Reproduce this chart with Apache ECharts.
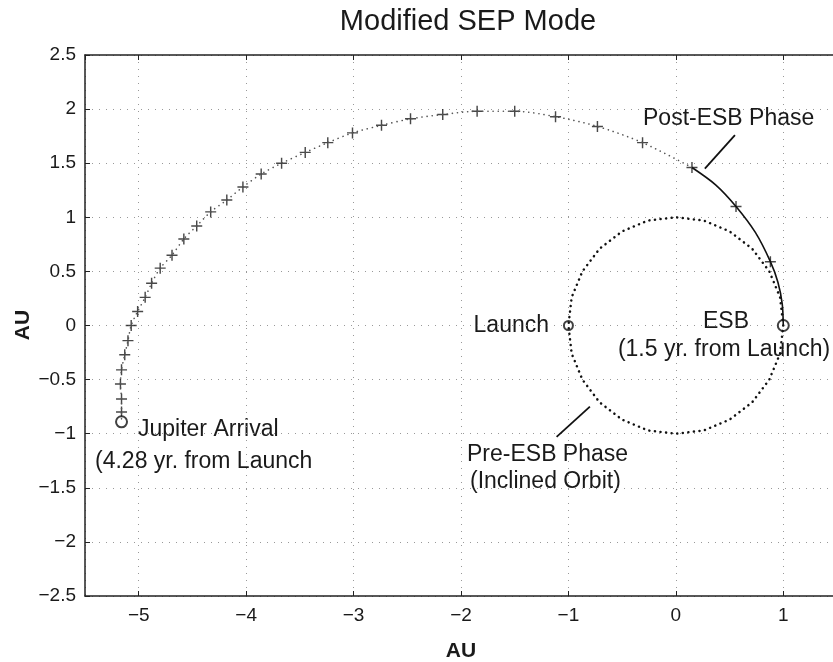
<!DOCTYPE html>
<html><head><meta charset="utf-8">
<script src="https://cdn.jsdelivr.net/npm/echarts@6/dist/echarts.min.js"></script>
<style>html,body{margin:0;padding:0;background:#fff}#c{width:833px;height:662px}</style>
</head><body><div id="c"></div>
<script>
// Post-ESB solid arc (from ESB at (1,0) to start of coast)
const postEsbX = [1.00, 0.99, 0.95, 0.88, 0.74, 0.56, 0.37, 0.15];
const postEsbY = [0.00, 0.20, 0.40, 0.59, 0.86, 1.10, 1.30, 1.46];
// Crosses along trajectory (ESB -> Jupiter)
const crossX = [0.88, 0.56, 0.15, -0.31, -0.73, -1.12, -1.50, -1.85, -2.17, -2.47, -2.74, -3.01, -3.24, -3.45, -3.67, -3.86, -4.03, -4.18, -4.33, -4.46, -4.58, -4.69, -4.80, -4.88, -4.94, -5.01, -5.07, -5.10, -5.13, -5.16, -5.17, -5.16, -5.16];
const crossY = [0.59, 1.10, 1.46, 1.69, 1.84, 1.93, 1.98, 1.98, 1.95, 1.91, 1.85, 1.78, 1.69, 1.60, 1.50, 1.40, 1.28, 1.16, 1.05, 0.92, 0.80, 0.65, 0.53, 0.39, 0.26, 0.13, 0.00, -0.14, -0.27, -0.41, -0.54, -0.68, -0.80];
// Coast (dotted) trajectory: from end of post-ESB to Jupiter arrival
const coastX = [0.15, -0.31, -0.73, -1.12, -1.50, -1.85, -2.17, -2.47, -2.74, -3.01, -3.24, -3.45, -3.67, -3.86, -4.03, -4.18, -4.33, -4.46, -4.58, -4.69, -4.80, -4.88, -4.94, -5.01, -5.07, -5.10, -5.13, -5.16, -5.17, -5.16, -5.16, -5.16];
const coastY = [1.46, 1.69, 1.84, 1.93, 1.98, 1.98, 1.95, 1.91, 1.85, 1.78, 1.69, 1.60, 1.50, 1.40, 1.28, 1.16, 1.05, 0.92, 0.80, 0.65, 0.53, 0.39, 0.26, 0.13, 0.00, -0.14, -0.27, -0.41, -0.54, -0.68, -0.80, -0.89];
// Pre-ESB inclined orbit (unit circle)
const orbitX = [1, 0.97, 0.87, 0.71, 0.5, 0.26, 0, -0.26, -0.5, -0.71, -0.87, -0.97, -1, -0.97, -0.87, -0.71, -0.5, -0.26, 0, 0.26, 0.5, 0.71, 0.87, 0.97, 1];
const orbitY = [0, 0.26, 0.5, 0.71, 0.87, 0.97, 1, 0.97, 0.87, 0.71, 0.5, 0.26, 0, -0.26, -0.5, -0.71, -0.87, -0.97, -1, -0.97, -0.87, -0.71, -0.5, -0.26, 0];
// Events
const launchPt = [-1, 0];
const esbPt = [1, 0];
const jupiterPt = [-5.16, -0.89];
// Leader lines for annotations
const postLeaderX = [0.27, 0.55];
const postLeaderY = [1.45, 1.76];
const preLeaderX = [-1.11, -0.80];
const preLeaderY = [-1.03, -0.75];

const zip = (a, b) => a.map((v, i) => [v, b[i]]);
const FONT = 'Liberation Sans, Arial, Helvetica, sans-serif';
const fmt = v => {
  const s = (Math.round(v * 10) / 10).toString();
  return v < 0 ? '\u2212' + s.slice(1) : s;
};
const crossPath = 'path://M0,4.35H10V5.65H0Z M4.35,0H5.65V10H4.35Z';

const chart = echarts.init(document.getElementById('c'));
const txt = (text, x, y, align, size) => ({
  type: 'text', x: x, y: y,
  style: { text: text, fill: '#1a1a1a', font: (size || 23) + 'px ' + FONT, textAlign: align || 'left', textVerticalAlign: 'middle' }
});
chart.setOption({
  animation: false,
  backgroundColor: '#fff',
  grid: { left: 85, top: 55, width: 752, height: 541, containLabel: false, outerBoundsMode: 'none', show: false },
  xAxis: [{
    type: 'value', min: -5.5, max: 1.5, splitNumber: 7, minInterval: 1, maxInterval: 1,
    axisLine: { show: true, onZero: false, lineStyle: { color: '#222', width: 1.5 } },
    axisTick: { show: true, inside: true, length: 5, lineStyle: { color: '#222' } },
    axisLabel: { showMinLabel: false, showMaxLabel: false, formatter: fmt, fontSize: 19, color: '#1a1a1a', margin: 10, fontFamily: FONT },
    splitLine: { show: true, lineStyle: { type: [1, 6], color: '#999', width: 1 } },
    name: 'AU', nameLocation: 'middle', nameGap: 45,
    nameTextStyle: { fontWeight: 'bold', fontSize: 21, color: '#1a1a1a', fontFamily: FONT }
  }, {
    type: 'value', position: 'top', min: -5.5, max: 1.5, splitNumber: 7, minInterval: 1, maxInterval: 1,
    axisLine: { show: true, onZero: false, lineStyle: { color: '#222', width: 1.5 } },
    axisTick: { show: true, inside: true, length: 5, lineStyle: { color: '#222' } },
    axisLabel: { show: false }, splitLine: { show: false }
  }],
  yAxis: [{
    type: 'value', min: -2.5, max: 2.5, interval: 0.5,
    axisLine: { show: true, onZero: false, lineStyle: { color: '#222', width: 1.5 } },
    axisTick: { show: true, inside: true, length: 5, lineStyle: { color: '#222' } },
    axisLabel: { formatter: fmt, fontSize: 19, color: '#1a1a1a', margin: 9, fontFamily: FONT },
    splitLine: { show: true, lineStyle: { type: [1, 6], color: '#999', width: 1 } }
  }],
  series: [
    { type: 'line', data: zip(orbitX, orbitY), symbol: 'none', silent: true,
      lineStyle: { color: '#111', width: 2.5, type: [0.1, 5.5], cap: 'round' } },
    { type: 'line', data: zip(coastX, coastY), symbol: 'none', smooth: 0.3, silent: true,
      lineStyle: { color: '#555', width: 1.6, type: [0.1, 5], cap: 'round' } },
    { type: 'line', data: zip(postEsbX, postEsbY), symbol: 'none', smooth: 0.3, silent: true,
      lineStyle: { color: '#111', width: 1.6 } },
    { type: 'scatter', data: zip(crossX, crossY), symbol: crossPath, symbolSize: 11, silent: true,
      itemStyle: { color: '#1a1a1a' } },
    { type: 'line', data: zip(postLeaderX, postLeaderY), symbol: 'none', silent: true, lineStyle: { color: '#111', width: 1.8 } },
    { type: 'line', data: zip(preLeaderX, preLeaderY), symbol: 'none', silent: true, lineStyle: { color: '#111', width: 1.8 } },
    { type: 'scatter', data: [launchPt], symbol: 'emptyCircle', symbolSize: 9, silent: true,
      itemStyle: { color: '#111', borderWidth: 2 } },
    { type: 'scatter', data: [esbPt, jupiterPt], symbol: 'emptyCircle', symbolSize: 11, silent: true,
      itemStyle: { color: '#111', borderWidth: 2.2 } }
  ],
  graphic: [
    txt('Modified SEP Mode', 468, 22, 'center', 29),
    { type: 'text', x: 23, y: 325, rotation: Math.PI / 2,
      style: { text: 'AU', fill: '#1a1a1a', font: 'bold 21px ' + FONT, textAlign: 'center', textVerticalAlign: 'middle' } },
    txt('Post-ESB Phase', 643, 119, 'left'),
    txt('Launch', 549, 326, 'right'),
    txt('ESB', 726, 322, 'center'),
    txt('(1.5 yr. from Launch)', 724, 350, 'center'),
    txt('Jupiter Arrival', 138, 430, 'left'),
    txt('(4.28 yr. from Launch', 95, 462, 'left'),
    txt('Pre-ESB Phase', 467, 455, 'left'),
    txt('(Inclined Orbit)', 470, 482, 'left')
  ]
});
</script></body></html>
